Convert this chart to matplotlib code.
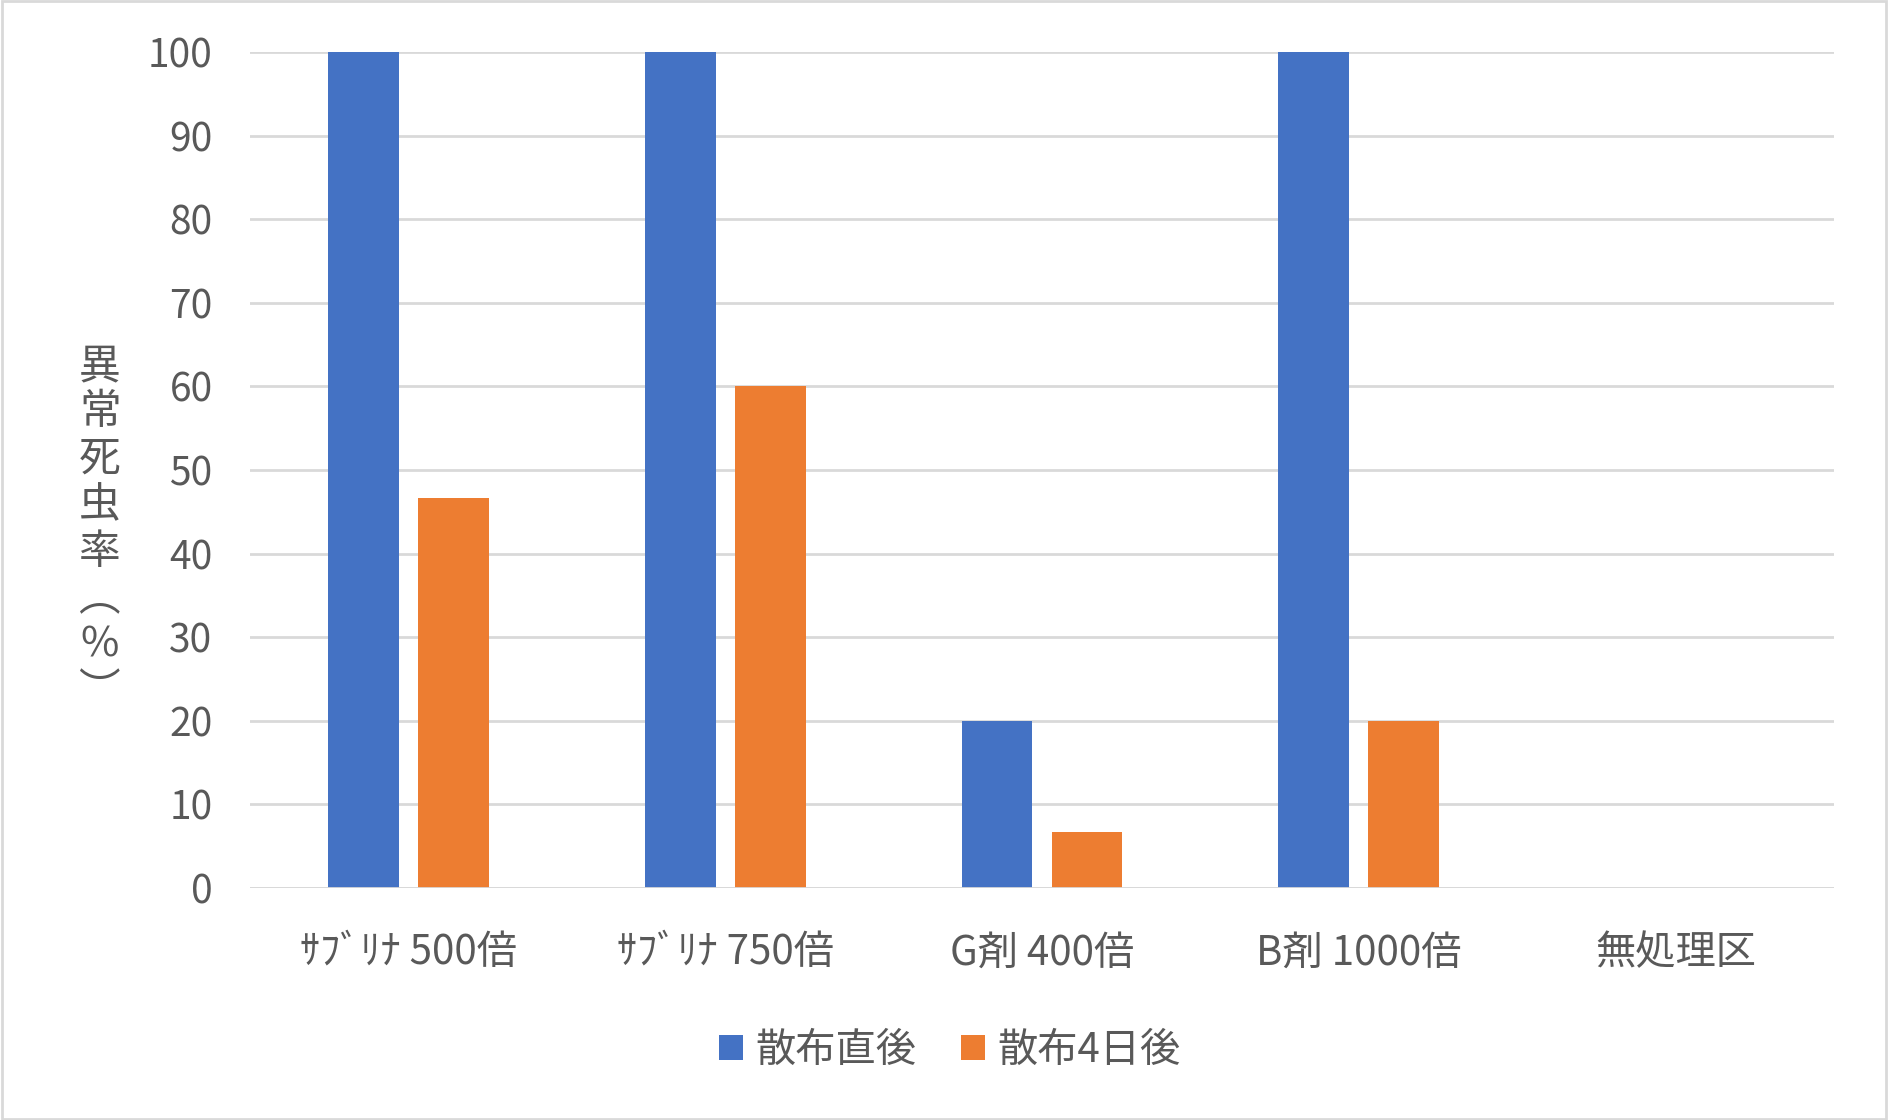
import matplotlib
matplotlib.use("Agg")
import matplotlib.pyplot as plt
import numpy as np
from matplotlib.patches import Rectangle

plt.rcParams['font.family'] = ['Noto Sans CJK JP', 'DejaVu Sans']

categories = ["ｻﾌﾞﾘﾅ 500倍", "ｻﾌﾞﾘﾅ 750倍", "G剤 400倍", "B剤 1000倍", "無処理区"]
series_names = ["散布直後", "散布4日後"]
immediate = [100, 100, 20, 100, 0]
after4 = [46.7, 60, 6.7, 20, 0]
yticks = [0, 10, 20, 30, 40, 50, 60, 70, 80, 90, 100]
ylabel_chars = ["異", "常", "死", "虫", "率", "︵", "%", "︶"]

blue = "#4472C4"
orange = "#ED7D31"
txt = "#595959"

fig = plt.figure(figsize=(18.88, 11.2), dpi=100)
ax = fig.add_axes([250/1888, 1 - 888/1120, (1834-250)/1888, (888-52)/1120])

x = np.arange(len(categories))
w = 0.224
off = 0.142
ax.bar(x - off, immediate, w, color=blue, label=series_names[0], zorder=3)
ax.bar(x + off, after4, w, color=orange, label=series_names[1], zorder=3)

ax.set_xlim(-0.5, len(categories) - 0.5)
ax.set_ylim(0, 100)
ax.set_yticks(yticks)
ax.set_yticklabels([str(t) for t in yticks], fontsize=28, color=txt)
ax.set_xticks(x)
ax.set_xticklabels(categories, fontsize=29, color=txt)
ax.tick_params(axis='both', length=0)
ax.tick_params(axis='y', pad=27)
ax.tick_params(axis='x', pad=32)
ax.grid(axis='y', color="#D9D9D9", linewidth=2, zorder=0)
for s in ax.spines.values():
    s.set_visible(False)
ax.axhline(0, color="#D9D9D9", linewidth=2, zorder=4)

fig.text(100/1888, 1 - 529/1120, "\n".join(ylabel_chars), fontsize=30, color=txt,
         ha='center', va='center', linespacing=1.17)

leg = fig.legend(loc='center', bbox_to_anchor=(0.503, 1 - 1050/1120), ncol=2, frameon=False,
                 fontsize=29, handlelength=0.6, handleheight=0.6, columnspacing=1.1,
                 handletextpad=0.3, labelcolor=txt)

fig.patches.append(Rectangle((0.001, 0.001), 0.998, 0.998, transform=fig.transFigure,
                             fill=False, edgecolor="#D9D9D9", linewidth=2))

fig.savefig("out.png", dpi=100, facecolor="white")
